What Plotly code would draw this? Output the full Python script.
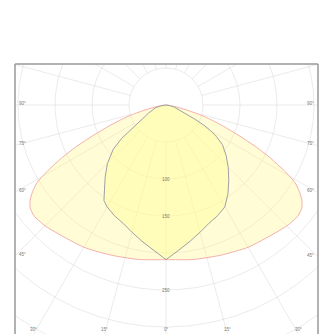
import numpy as np
import plotly.graph_objects as go

# Luminous intensity distribution (cd/klm) versus gamma angle from nadir
gamma_outer = [0, 10, 20, 30, 40, 45, 50, 53, 55, 57, 59, 61, 63, 65, 67, 70, 72, 74, 77, 80, 85, 90]
outer_cd = [209, 212, 216, 222, 227, 231, 233, 230, 224, 215, 203, 182, 159, 135, 110, 80, 63, 49, 26, 12, 3, 0]

gamma_inner_r = [0, 5, 10, 15, 20, 25, 30, 35, 40, 45, 50, 55, 58, 60, 62, 64, 66, 70, 75, 80, 85, 90]
inner_right_cd = [209, 197, 187, 178, 170, 165, 159, 146, 132, 119, 106, 93, 80, 70, 58, 42, 31, 21, 12, 6, 2, 0]

gamma_inner_l = [0, 5, 10, 15, 20, 25, 30, 33, 35, 40, 45, 50, 53, 56, 58, 62, 65, 70, 75, 80, 85, 90]
inner_left_cd = [209, 197, 187, 178, 170, 165, 159, 154, 146, 128, 112, 93, 75, 56, 42, 31, 26, 20, 15, 8, 3, 0]

ring_step = 50
ring_values = list(range(50, 451, 50))
ring_labels = [100, 150, 250]
spoke_angles = list(range(0, 360, 15))
edge_labels_side = [90, 75, 60, 45]
edge_labels_bottom = [30, 15, 0]

# plot window in data units (cd), centre of the diagram at origin
X0, X1 = -204.05, 205.41
Y0, Y1 = -309.46, 55.41


def to_xy(gamma, r, side=1):
    g = np.radians(np.asarray(gamma, float))
    r = np.asarray(r, float)
    return side * r * np.sin(g), -r * np.cos(g)


def closed_curve(g_left, r_left, g_right, r_right):
    xl, yl = to_xy(g_left, r_left, -1)
    xr, yr = to_xy(g_right, r_right, 1)
    x = np.concatenate([xl[::-1], xr[1:]])
    y = np.concatenate([yl[::-1], yr[1:]])
    return x, y


fig = go.Figure()

grid_col = "rgba(205,205,205,0.4)"
t = np.linspace(0, 2 * np.pi, 361)
for rv in ring_values:
    fig.add_trace(go.Scatter(x=rv * np.cos(t), y=rv * np.sin(t), mode="lines",
                             line=dict(color=grid_col, width=1), hoverinfo="skip"))
for a in spoke_angles:
    xs, ys = to_xy([a, a], [ring_step, ring_values[-1]])
    fig.add_trace(go.Scatter(x=xs, y=ys, mode="lines",
                             line=dict(color=grid_col, width=1), hoverinfo="skip"))

xo, yo = closed_curve(gamma_outer, outer_cd, gamma_outer, outer_cd)
fig.add_trace(go.Scatter(x=xo, y=yo, mode="lines", fill="toself",
                         fillcolor="rgba(255,245,120,0.3)",
                         line=dict(color="rgb(245,175,170)", width=1, shape="spline", smoothing=0.6),
                         name="C0-C180"))

xi, yi = closed_curve(gamma_inner_l, inner_left_cd, gamma_inner_r, inner_right_cd)
fig.add_trace(go.Scatter(x=xi, y=yi, mode="lines", fill="toself",
                         fillcolor="rgba(255,255,150,0.45)",
                         line=dict(color="rgb(160,160,168)", width=1), name="C90-C270"))

ann = []
lab_font = dict(size=4.5, color="#777", family="Arial")
for v in ring_labels:
    ann.append(dict(x=0, y=-v, text=str(v), showarrow=False, font=lab_font,
                    xanchor="center", yanchor="middle"))
for a in edge_labels_side:
    g = np.radians(a)
    yl = -abs(X0) / np.tan(g) if a < 90 else 0.0
    yr = -abs(X1) / np.tan(g) if a < 90 else 0.0
    ann.append(dict(x=X0 + 3, y=yl, text=f"{a}°", showarrow=False, font=lab_font,
                    xanchor="left", yanchor="middle", yshift=2))
    ann.append(dict(x=X1 - 3, y=yr, text=f"{a}°", showarrow=False, font=lab_font,
                    xanchor="right", yanchor="middle", yshift=2))
for a in edge_labels_bottom:
    g = np.radians(a)
    xb = abs(Y0) * np.tan(g)
    for s in ([1] if a == 0 else [-1, 1]):
        ann.append(dict(x=s * xb, y=Y0, text=f"{a}°", showarrow=False, font=lab_font,
                        xanchor="center", yanchor="middle", yshift=5))

frame = dict(type="line", xref="paper", yref="paper", line=dict(color="#999", width=1.5))
shapes = [
    dict(frame, x0=0, x1=0, y0=0, y1=1),
    dict(frame, x0=0, x1=1, y0=1, y1=1),
    dict(frame, x0=1, x1=1, y0=0, y1=1),
]

fig.update_layout(
    width=321, height=334,
    margin=dict(l=15, r=3, t=64, b=0),
    paper_bgcolor="white", plot_bgcolor="white",
    showlegend=False,
    xaxis=dict(range=[X0, X1], visible=False, fixedrange=True),
    yaxis=dict(range=[Y0, Y1], visible=False, fixedrange=True),
    annotations=ann, shapes=shapes,
)

fig.write_html("out.html")
